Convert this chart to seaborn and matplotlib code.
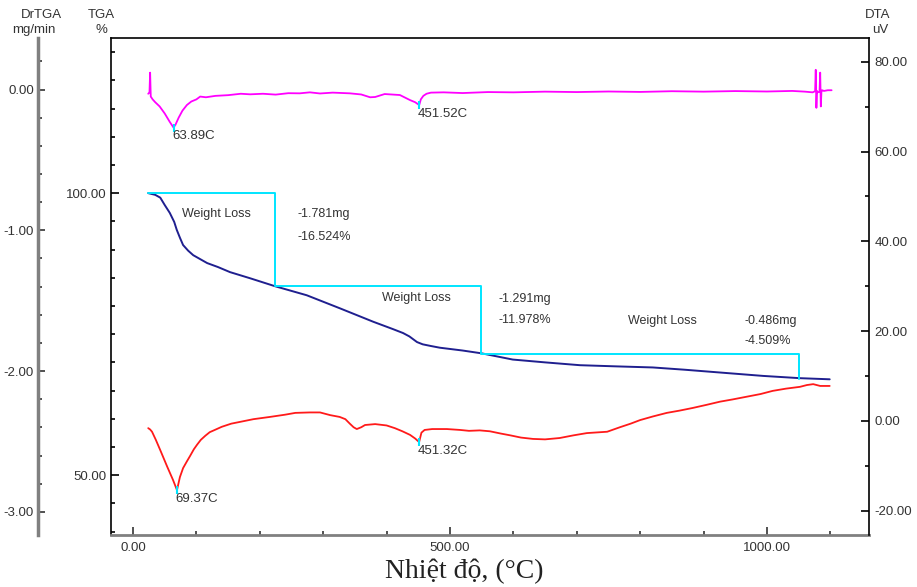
import seaborn as sns
import matplotlib.pyplot as plt
import matplotlib.ticker as ticker

# DrTGA (mg/min) curve
dr_T = [24, 26, 27, 28, 31, 35, 42, 50, 58, 63.89, 67, 72, 78, 85, 92, 100, 106, 115, 130, 150,
        170, 185, 205, 225, 245, 263, 279, 295, 315, 342, 360, 374, 382, 397, 421, 437, 445,
        451.52, 454, 458, 463, 470, 490, 520, 560, 600, 650, 700, 750, 800, 850, 900, 950, 1000,
        1040, 1060, 1072, 1076, 1077, 1078, 1079, 1080, 1083, 1084, 1085, 1086, 1087, 1090, 1096,
        1102]
dr_v = [-0.03, -0.02, 0.12, -0.05, -0.07, -0.09, -0.12, -0.17, -0.23, -0.27, -0.25, -0.20, -0.15,
        -0.11, -0.085, -0.07, -0.05, -0.055, -0.045, -0.04, -0.03, -0.034, -0.03, -0.036, -0.026,
        -0.027, -0.02, -0.028, -0.022, -0.027, -0.035, -0.055, -0.053, -0.032, -0.039, -0.075,
        -0.09, -0.11, -0.07, -0.045, -0.03, -0.022, -0.02, -0.025, -0.018, -0.02, -0.015, -0.018,
        -0.014, -0.017, -0.012, -0.015, -0.011, -0.014, -0.01, -0.015, -0.02, -0.012, 0.14, -0.13,
        -0.01, -0.02, -0.015, 0.12, -0.12, -0.01, -0.005, -0.01, -0.005, -0.005]

# TGA (%) curve
tg_T = [24, 35, 43, 50, 58, 65, 69, 74, 79, 87, 95, 106, 117, 134, 153, 185, 224, 274, 326,
        379, 410, 426, 436, 442, 448, 457, 470, 484, 520, 550, 599, 650, 705, 760, 820, 870, 915,
        994, 1052, 1099]
tg_W = [100.0, 99.7, 99.2, 97.9, 96.5, 94.9, 93.5, 92.1, 90.8, 89.8, 89.0, 88.3, 87.6, 86.9,
        86.0, 84.9, 83.5, 81.9, 79.6, 77.2, 75.9, 75.2, 74.6, 74.1, 73.6, 73.2, 72.9, 72.6, 72.1,
        71.6, 70.5, 70.0, 69.5, 69.3, 69.1, 68.7, 68.3, 67.6, 67.2, 67.0]

# DTA (uV) curve
dta_T = [24, 27, 30, 36, 43, 54, 63, 69.37, 74, 79, 85, 90, 96, 101, 107, 114, 121, 129, 140,
         155, 169, 190, 216, 240, 256, 279, 295, 311, 326, 335, 342, 348, 353, 360, 366, 382, 400,
         413, 425, 437, 445, 451.32, 455, 460, 472, 495, 516, 530, 547, 563, 580, 595, 612, 631,
         650, 673, 695, 716, 748, 768, 785, 800, 820, 842, 862, 883, 905, 926, 946, 968, 990,
         1009, 1030, 1052, 1063, 1073, 1084, 1099]
dta_v = [-1.6, -1.9, -2.4, -4.2, -6.5, -10.2, -13.1, -15.4, -12.5, -10.5, -9.0, -7.8, -6.3, -5.3,
         -4.2, -3.3, -2.5, -2.0, -1.3, -0.6, -0.2, 0.4, 0.9, 1.4, 1.8, 1.9, 1.9, 1.3, 0.9, 0.4,
         -0.6, -1.4, -1.8, -1.4, -0.9, -0.7, -1.0, -1.6, -2.3, -3.1, -3.9, -4.7, -2.6, -2.0, -1.8,
         -1.8, -2.0, -2.2, -2.1, -2.3, -2.8, -3.2, -3.7, -4.0, -4.1, -3.8, -3.2, -2.7, -2.4,
         -1.4, -0.6, 0.2, 1.0, 1.8, 2.3, 2.9, 3.6, 4.3, 4.8, 5.4, 6.0, 6.7, 7.2, 7.6, 8.0, 8.2,
         7.8, 7.8]

# weight loss steps
step_T = [24, 224, 549, 1050]
step_W = [100.0, 83.476, 71.498, 66.989]
loss_mg = ["-1.781mg", "-1.291mg", "-0.486mg"]
loss_pct = ["-16.524%", "-11.978%", "-4.509%"]

# peaks
dr_peaks = [(63.89, -0.27), (451.52, -0.11)]
dta_peaks = [(69.37, -15.4), (451.32, -4.7)]

sns.set_style("white")
plt.rcParams['font.family'] = ['Liberation Sans', 'DejaVu Sans']
txt = '#333333'

fig = plt.figure(figsize=(9.17, 5.87), dpi=100)
ax = fig.add_axes([110.5 / 917, 52 / 587, 758.5 / 917, 497 / 587])
ax_dr = ax.twinx()
ax_dta = ax.twinx()

# curves
sns.lineplot(x=dr_T, y=dr_v, ax=ax_dr, color='#ff00ff', linewidth=1.3, sort=False, estimator=None)
sns.lineplot(x=tg_T, y=tg_W, ax=ax, color='#1f1f8f', linewidth=1.4, sort=False, estimator=None)
sns.lineplot(x=dta_T, y=dta_v, ax=ax_dta, color='#ff1a1a', linewidth=1.3, sort=False, estimator=None)

# cyan step lines for the weight loss
sx, sy = [step_T[0]], [step_W[0]]
for i in range(1, len(step_T)):
    sx += [step_T[i], step_T[i]]
    sy += [step_W[i - 1], step_W[i]]
sns.lineplot(x=sx, y=sy, ax=ax, color='#00e5ff', linewidth=1.4, sort=False, estimator=None)

# weight loss texts
wl_pos = [(77, 96.3, 260, 96.3, 92.2), (393, 81.4, 576, 81.2, 77.5), (781, 77.3, 965, 77.3, 73.8)]
for i, (tx, ty, mx, my, py) in enumerate(wl_pos):
    ax.text(tx, ty, "Weight Loss", fontsize=9, color=txt, va='center', ha='left')
    ax.text(mx, my, loss_mg[i], fontsize=9, color=txt, va='center', ha='left')
    ax.text(mx, py, loss_pct[i], fontsize=9, color=txt, va='center', ha='left')

# peak markers and labels
for a, peaks in [(ax_dr, dr_peaks), (ax_dta, dta_peaks)]:
    for t, v in peaks:
        a.plot([t], [v], marker='|', color='#00e5ff', ms=6, mew=1.5)
        a.annotate("{:.2f}C".format(t), xy=(t, v), xytext=(-1, -2), textcoords='offset points',
                   ha='left', va='top', fontsize=9.5, color=txt)

# limits
ax.set_xlim(-35.5, 1161)
ax.set_ylim(39.4, 127.5)
ax_dr.set_ylim(-3.164, 0.366)
ax_dta.set_ylim(-25.4, 85.3)

# spines
for s in ['top', 'left']:
    ax.spines[s].set_color('black')
    ax.spines[s].set_linewidth(1.2)
ax.spines['bottom'].set_color('#808080')
ax.spines['bottom'].set_linewidth(2)
ax.spines['right'].set_visible(False)

for s in ['top', 'right', 'bottom']:
    ax_dr.spines[s].set_visible(False)
ax_dr.spines['left'].set_visible(True)
ax_dr.spines['left'].set_position(('outward', 52))
ax_dr.spines['left'].set_color('#808080')
ax_dr.spines['left'].set_linewidth(2.5)
ax_dr.yaxis.set_ticks_position('left')
ax_dr.yaxis.set_label_position('left')

for s in ['top', 'left', 'bottom']:
    ax_dta.spines[s].set_visible(False)
ax_dta.spines['right'].set_visible(True)
ax_dta.spines['right'].set_color('black')
ax_dta.spines['right'].set_linewidth(1.2)

# ticks
fmt = ticker.FormatStrFormatter('%.2f')
ax.xaxis.set_major_locator(ticker.MultipleLocator(500))
ax.xaxis.set_minor_locator(ticker.MultipleLocator(100))
ax.xaxis.set_major_formatter(fmt)
ax.yaxis.set_major_locator(ticker.MultipleLocator(50))
ax.yaxis.set_minor_locator(ticker.MultipleLocator(5))
ax.yaxis.set_major_formatter(fmt)
ax_dr.yaxis.set_major_locator(ticker.MultipleLocator(1))
ax_dr.yaxis.set_minor_locator(ticker.MultipleLocator(0.2))
ax_dr.yaxis.set_major_formatter(fmt)
ax_dta.yaxis.set_major_locator(ticker.MultipleLocator(20))
ax_dta.yaxis.set_minor_locator(ticker.MultipleLocator(10))
ax_dta.yaxis.set_major_formatter(fmt)

ax.tick_params(axis='x', which='both', direction='in', bottom=True, labelsize=9.5,
               labelcolor=txt, color='#333333', pad=5)
ax.tick_params(axis='x', which='major', length=6, width=1.2)
ax.tick_params(axis='x', which='minor', length=3, width=1.2)
ax.tick_params(axis='y', which='both', direction='in', left=True, labelsize=9.5,
               labelcolor=txt, color='black', pad=3)
ax.tick_params(axis='y', which='major', length=6, width=1.2)
ax.tick_params(axis='y', which='minor', length=3, width=1.2)
ax_dr.tick_params(axis='y', which='both', direction='in', left=True, right=False,
                  labelleft=True, labelright=False, labelsize=9.5, labelcolor=txt,
                  color='#333333', pad=3)
ax_dr.tick_params(axis='y', which='major', length=5, width=1.2)
ax_dr.tick_params(axis='y', which='minor', length=3, width=1.2)
ax_dta.tick_params(axis='y', which='both', direction='in', right=True, labelsize=9.5,
                   labelcolor=txt, color='black', pad=4)
ax_dta.tick_params(axis='y', which='major', length=6, width=1.2)
ax_dta.tick_params(axis='y', which='minor', length=3, width=1.2)
ax_dr.set_ylabel(None)
ax_dta.set_ylabel(None)

# axis titles
fig.text(41 / 917, 1 - 15 / 587, "DrTGA", ha='center', va='center', fontsize=9.5, color=txt)
fig.text(34 / 917, 1 - 30 / 587, "mg/min", ha='center', va='center', fontsize=9.5, color=txt)
fig.text(101 / 917, 1 - 15 / 587, "TGA", ha='center', va='center', fontsize=9.5, color=txt)
fig.text(101 / 917, 1 - 30 / 587, "%", ha='center', va='center', fontsize=9.5, color=txt)
fig.text(878 / 917, 1 - 15 / 587, "DTA", ha='center', va='center', fontsize=9.5, color=txt)
fig.text(880 / 917, 1 - 30 / 587, "uV", ha='center', va='center', fontsize=9.5, color=txt)

fig.text(464 / 917, 1 - 571 / 587, "Nhiệt độ, (°C)", ha='center', va='center', fontsize=20,
         family=['Liberation Serif', 'DejaVu Serif'], color='#222222')

plt.savefig("out.png", dpi=100)
